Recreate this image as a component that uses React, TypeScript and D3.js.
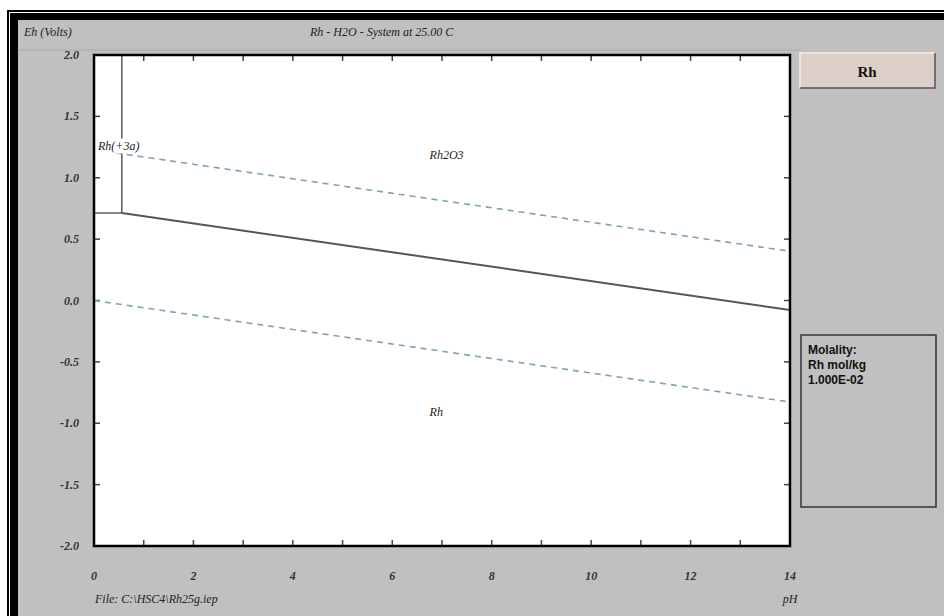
import React, { useRef, useEffect } from "react";
import * as d3 from "d3";

type Point = [number, number];

// pH, Eh (V)
const rh3Boundary: Point[] = [[0.56, 2.0], [0.56, 0.713]];
const rh3Floor: Point[] = [[0, 0.713], [0.56, 0.713]];
const rh2o3Rh: Point[] = [[0.56, 0.713], [14, -0.077]];
const o2Line: Point[] = [[0, 1.228], [14, 0.401]];
const h2Line: Point[] = [[0, 0.0], [14, -0.827]];

const xTicks = [0, 2, 4, 6, 8, 10, 12, 14];
const xMinor = d3.range(0, 15, 1);
const yTicks = [2.0, 1.5, 1.0, 0.5, 0.0, -0.5, -1.0, -1.5, -2.0];

const regionLabels: { text: string; ph: number; eh: number }[] = [
  { text: "Rh(+3a)", ph: 0.08, eh: 1.23 },
  { text: "Rh2O3", ph: 6.75, eh: 1.15 },
  { text: "Rh", ph: 6.75, eh: -0.94 },
];

const molality = ["Molality:", "Rh mol/kg", "1.000E-02"];

const App: React.FC = () => {
  const svgRef = useRef<SVGSVGElement>(null);

  useEffect(() => {
    const svg = d3.select(svgRef.current);
    svg.selectAll("*").remove();

    const plot = { left: 94, top: 55, right: 790, bottom: 546 };
    const x = d3.scaleLinear().domain([0, 14]).range([plot.left, plot.right]);
    const y = d3.scaleLinear().domain([-2, 2]).range([plot.bottom, plot.top]);
    const serif = "'Liberation Serif', 'DejaVu Serif', serif";
    const sans = "'Liberation Sans', Arial, sans-serif";

    // window frame
    svg.append("rect").attr("width", 944).attr("height", 616).attr("fill", "#fff");
    svg.append("rect").attr("x", 7).attr("y", 10).attr("width", 937).attr("height", 606).attr("fill", "#000");
    svg.append("rect").attr("x", 9).attr("y", 12).attr("width", 935).attr("height", 604).attr("fill", "#fff");
    svg.append("rect").attr("x", 10).attr("y", 13).attr("width", 934).attr("height", 603).attr("fill", "#000");
    svg.append("rect").attr("x", 18).attr("y", 20).attr("width", 926).attr("height", 596).attr("fill", "#c0c0c0");
    svg.append("line").attr("x1", 18).attr("x2", 800).attr("y1", 50).attr("y2", 50)
      .attr("stroke", "#a8a8a8").attr("stroke-width", 1);

    // header texts
    svg.append("text").attr("x", 24).attr("y", 36).text("Eh (Volts)")
      .attr("font-family", serif).attr("font-style", "italic").attr("font-size", 12).attr("fill", "#222");
    svg.append("text").attr("x", 310).attr("y", 36).text("Rh - H2O - System at 25.00 C")
      .attr("font-family", serif).attr("font-style", "italic").attr("font-size", 12).attr("fill", "#222");

    // plot area
    svg.append("rect")
      .attr("x", plot.left).attr("y", plot.top)
      .attr("width", plot.right - plot.left).attr("height", plot.bottom - plot.top)
      .attr("fill", "#fff");

    const g = svg.append("g");

    // ticks
    xMinor.forEach((v) => {
      g.append("line").attr("x1", x(v)).attr("x2", x(v)).attr("y1", plot.top).attr("y2", plot.top + 6)
        .attr("stroke", "#444").attr("stroke-width", 1.5);
      g.append("line").attr("x1", x(v)).attr("x2", x(v)).attr("y1", plot.bottom).attr("y2", plot.bottom - 6)
        .attr("stroke", "#444").attr("stroke-width", 1.5);
    });
    yTicks.forEach((v) => {
      g.append("line").attr("x1", plot.left).attr("x2", plot.left + 6).attr("y1", y(v)).attr("y2", y(v))
        .attr("stroke", "#444").attr("stroke-width", 1.5);
      g.append("line").attr("x1", plot.right).attr("x2", plot.right - 6).attr("y1", y(v)).attr("y2", y(v))
        .attr("stroke", "#444").attr("stroke-width", 1.5);
    });

    g.selectAll(".ylab").data(yTicks).enter().append("text")
      .attr("x", 79).attr("y", (d) => y(d) + 4)
      .attr("text-anchor", "end")
      .attr("font-family", serif).attr("font-style", "italic").attr("font-weight", "bold")
      .attr("font-size", 12).attr("fill", "#333")
      .text((d) => d3.format(".1f")(d).replace("−", "-"));

    g.selectAll(".xlab").data(xTicks).enter().append("text")
      .attr("x", (d) => x(d)).attr("y", 580)
      .attr("text-anchor", "middle")
      .attr("font-family", serif).attr("font-style", "italic").attr("font-weight", "bold")
      .attr("font-size", 12).attr("fill", "#333")
      .text((d) => String(d));

    const line = d3.line<Point>().x((d) => x(d[0])).y((d) => y(d[1]));

    // water stability lines
    [o2Line, h2Line].forEach((pts) => {
      g.append("path").datum(pts).attr("d", line).attr("fill", "none")
        .attr("stroke", "#7fa4ac").attr("stroke-width", 1.6).attr("stroke-dasharray", "6,5");
    });

    // species boundaries
    [rh3Boundary, rh3Floor].forEach((pts) => {
      g.append("path").datum(pts).attr("d", line).attr("fill", "none")
        .attr("stroke", "#333").attr("stroke-width", 1.2);
    });
    g.append("path").datum(rh2o3Rh).attr("d", line).attr("fill", "none")
      .attr("stroke", "#555").attr("stroke-width", 2);

    // region labels
    regionLabels.forEach((l, i) => {
      if (i === 0) {
        g.append("rect").attr("x", plot.left).attr("y", y(l.eh) - 11)
          .attr("width", 64).attr("height", 15).attr("fill", "#fff");
      }
      g.append("text").attr("x", x(l.ph)).attr("y", y(l.eh)).text(l.text)
        .attr("font-family", serif).attr("font-style", "italic")
        .attr("font-size", 12).attr("fill", "#222");
    });

    // plot frame drawn last so it sits over everything
    svg.append("rect")
      .attr("x", plot.left).attr("y", plot.top)
      .attr("width", plot.right - plot.left).attr("height", plot.bottom - plot.top)
      .attr("fill", "none").attr("stroke", "#000").attr("stroke-width", 2.5);

    // footer
    svg.append("text").attr("x", 95).attr("y", 603).text("File:  C:\\HSC4\\Rh25g.iep")
      .attr("font-family", serif).attr("font-style", "italic").attr("font-size", 12).attr("fill", "#222");
    svg.append("text").attr("x", 790).attr("y", 603).attr("text-anchor", "middle").text("pH")
      .attr("font-family", serif).attr("font-style", "italic").attr("font-size", 12).attr("fill", "#222");

    // element button
    svg.append("rect").attr("x", 800).attr("y", 53).attr("width", 135).attr("height", 35)
      .attr("fill", "#dccfc8");
    svg.append("path").attr("d", "M800,88 L800,53 L935,53").attr("fill", "none")
      .attr("stroke", "#f4f0ee").attr("stroke-width", 1.5);
    svg.append("path").attr("d", "M800,88 L935,88 L935,53").attr("fill", "none")
      .attr("stroke", "#555").attr("stroke-width", 1.5);
    svg.append("text").attr("x", 867).attr("y", 77).attr("text-anchor", "middle").text("Rh")
      .attr("font-family", serif).attr("font-weight", "bold").attr("font-size", 15).attr("fill", "#111");

    // molality box
    svg.append("rect").attr("x", 801).attr("y", 335).attr("width", 135).attr("height", 172)
      .attr("fill", "none").attr("stroke", "#333").attr("stroke-width", 1.5);
    molality.forEach((t, i) => {
      svg.append("text").attr("x", 808).attr("y", 354 + i * 15).text(t)
        .attr("font-family", sans).attr("font-weight", "bold").attr("font-size", 12).attr("fill", "#111");
    });
  }, []);

  return (
    <svg ref={svgRef} width={944} height={616} style={{ display: "block", position: "absolute", left: 0, top: 0 }} />
  );
};

export default App;
